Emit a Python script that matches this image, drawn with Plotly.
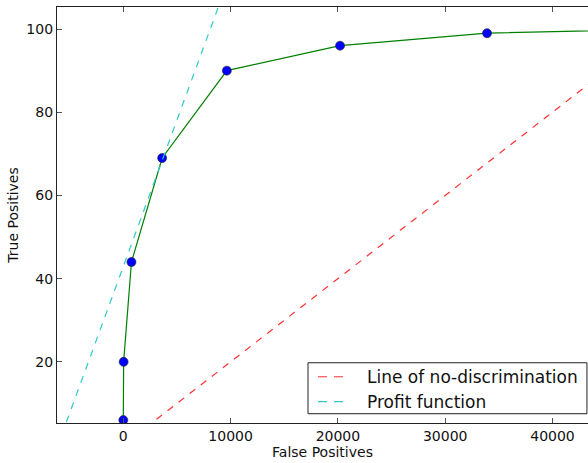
import plotly.graph_objects as go

# ROC curve points (false positives vs true positives)
false_pos = [0, 30, 760, 3620, 9650, 20200, 33900, 50000]
true_pos = [6, 20, 44, 69, 90, 96, 99, 100]

# Line of no-discrimination: from origin to (total negatives, 100)
total_neg = 50000
nodisc_x = [0, total_neg]
nodisc_y = [0, 100]

# Profit function: straight line TP = slope * FP + intercept
profit_slope = 0.007045
profit_intercept = 42.9
profit_x = [-8000, 12000]
profit_y = [profit_slope * x + profit_intercept for x in profit_x]

x_ticks = [0, 10000, 20000, 30000, 40000]
y_ticks = [20, 40, 60, 80, 100]

legend_labels = ["Line of no-discrimination", "Profit function"]
RED = "#ff3030"
CYAN = "#30c8c8"
DASH = "7px,7px"
FONT = "DejaVu Sans"

fig = go.Figure()
fig.add_trace(go.Scatter(
    x=false_pos, y=true_pos, mode="lines+markers", showlegend=False,
    line=dict(color="#008000", width=1.2),
    marker=dict(color="#0000ff", size=9, line=dict(color="#222222", width=0.6)),
))
fig.add_trace(go.Scatter(
    x=nodisc_x, y=nodisc_y, mode="lines", name=legend_labels[0], showlegend=False,
    line=dict(color=RED, width=1.2, dash=DASH),
))
fig.add_trace(go.Scatter(
    x=profit_x, y=profit_y, mode="lines", name=legend_labels[1], showlegend=False,
    line=dict(color=CYAN, width=1.2, dash=DASH),
))

# Legend box in the lower right corner of the axes
fig.add_shape(type="rect", xref="paper", yref="paper",
              x0=0.4727, x1=0.998, y0=0.0223, y1=0.1448,
              line=dict(color="#222222", width=1), fillcolor="white", layer="above")
for label, color, yc in zip(legend_labels, [RED, CYAN], [0.1112, 0.0512]):
    fig.add_shape(type="line", xref="paper", yref="paper",
                  x0=0.4915, x1=0.5386, y0=yc, y1=yc,
                  line=dict(color=color, width=1.2, dash="9px,7px"), layer="above")
    fig.add_annotation(xref="paper", yref="paper", x=0.580, y=yc,
                       xanchor="left", yanchor="middle", showarrow=False,
                       text=label, font=dict(family=FONT, size=17, color="#111111"))

fig.update_layout(
    width=588, height=463,
    margin=dict(l=57, r=0, t=7, b=40),
    plot_bgcolor="white", paper_bgcolor="white",
    font=dict(family=FONT, size=14, color="#111111"),
    showlegend=False,
)
fig.update_xaxes(
    range=[-6180, 43310], tickvals=x_ticks, ticktext=[str(v) for v in x_ticks],
    showgrid=False, zeroline=False,
    showline=True, linecolor="#222222", linewidth=1.3, mirror="ticks",
    ticks="inside", ticklen=5, tickcolor="#555555",
    title=dict(text="False Positives", font=dict(family=FONT, size=14), standoff=4),
)
fig.update_yaxes(
    range=[5.3, 105.3], tickvals=y_ticks, ticktext=[str(v) for v in y_ticks],
    showgrid=False, zeroline=False,
    showline=True, linecolor="#222222", linewidth=1.3,
    ticks="inside", ticklen=5, tickcolor="#555555",
    title=dict(text="True Positives", font=dict(family=FONT, size=14), standoff=4),
)

fig.write_html("out.html")
